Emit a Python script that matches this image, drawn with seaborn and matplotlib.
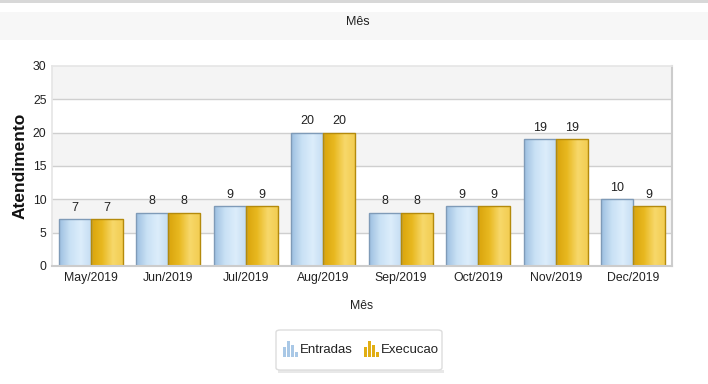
import numpy as np
import pandas as pd
import matplotlib
matplotlib.use("Agg")
import matplotlib.pyplot as plt
from matplotlib.patches import Rectangle, FancyBboxPatch
from matplotlib.colors import LinearSegmentedColormap
import seaborn as sns

months = ["May/2019", "Jun/2019", "Jul/2019", "Aug/2019",
          "Sep/2019", "Oct/2019", "Nov/2019", "Dec/2019"]
entradas = [7, 8, 9, 20, 8, 9, 19, 10]
execucao = [7, 8, 9, 20, 8, 9, 19, 9]
series_names = ["Entradas", "Execucao"]

df = pd.DataFrame({
    "Mês": months * 2,
    "Atendimento": entradas + execucao,
    "Serie": [series_names[0]] * len(months) + [series_names[1]] * len(months),
})

sns.set_theme(style="white")
plt.rcParams["font.family"] = ["Liberation Sans", "DejaVu Sans"]

W, H = 708, 384
fig = plt.figure(figsize=(W / 100, H / 100), dpi=100)
fig.patch.set_facecolor("white")

# header strip with the chart title
fig.patches.append(Rectangle((0, 1 - 3 / H), 1, 3 / H, transform=fig.transFigure,
                             facecolor="#d8d8d8", edgecolor="none", zorder=0))
fig.patches.append(Rectangle((0, 1 - 40 / H), 1, 28 / H, transform=fig.transFigure,
                             facecolor="#f7f7f7", edgecolor="none", zorder=0))
fig.text(358 / W, 1 - 22 / H, "Mês", ha="center", va="center", fontsize=9, color="#222222")

ax = fig.add_axes([52 / W, 1 - 266 / H, 620 / W, 200 / H])

palette = {"Entradas": "#b5d3ee", "Execucao": "#e9be2c"}
sns.barplot(data=df, x="Mês", y="Atendimento", hue="Serie", palette=palette,
            width=0.83, gap=0.0, ax=ax, legend=False, saturation=1)

ax.set_ylim(0, 30)
ax.set_xlim(-0.5, len(months) - 0.5)
ax.set_yticks(range(0, 31, 5))
ax.set_facecolor("white")

# alternating horizontal bands
for i, lo in enumerate(range(0, 30, 5)):
    if i % 2 == 1:
        ax.axhspan(lo, lo + 5, color="#f4f4f4", zorder=0, lw=0)
for y in range(5, 30, 5):
    ax.axhline(y, color="#cfcfcf", lw=1.0, zorder=0.5)

grads = {
    "Entradas": LinearSegmentedColormap.from_list("b", ["#9dbfe0", "#c9e1f5", "#dcedfb", "#c4dcf2"]),
    "Execucao": LinearSegmentedColormap.from_list("y", ["#d9a40c", "#e8b820", "#f7d86a", "#f2cc50"]),
}
edges = {"Entradas": "#7f9bb8", "Execucao": "#b48a0c"}

grad_row = np.linspace(0, 1, 64).reshape(1, -1)
n = len(months)
for k, container in enumerate(ax.containers):
    name = series_names[k]
    vals = entradas if k == 0 else execucao
    for patch, v in zip(container.patches, vals):
        patch.set_edgecolor(edges[name])
        patch.set_linewidth(1.0)
        patch.set_zorder(2)
        x0, w = patch.get_x(), patch.get_width()
        h = patch.get_height()
        im = ax.imshow(grad_row, cmap=grads[name], aspect="auto",
                       extent=(x0, x0 + w, 0, h), zorder=1.5)
        im.set_clip_path(patch)
        patch.set_facecolor("none")
        ax.text(x0 + w / 2, h + 0.8, f"{v}", ha="center", va="bottom",
                fontsize=9, color="#222222")

ax.set_xlim(-0.5, n - 0.5)
ax.set_ylim(0, 30)

for s in ["top", "left"]:
    ax.spines[s].set_color("#e6e6e6")
for s in ["right", "bottom"]:
    ax.spines[s].set_color("#cccccc")
    ax.spines[s].set_linewidth(1.5)

ax.tick_params(axis="both", length=0, labelsize=8.8, colors="#222222", pad=4)
ax.set_xlabel("Mês", fontsize=8.8, color="#222222", labelpad=12)
ax.set_ylabel("Atendimento", fontsize=12.5, fontweight="bold", color="#111111")
ax.yaxis.set_label_coords(-24 / 620, 0.5)

# legend box with small bar glyphs
lx0, ly0, lw, lh = 276, 330, 166, 40
box = FancyBboxPatch((lx0 / W, 1 - (ly0 + lh) / H), lw / W, lh / H,
                     boxstyle="round,pad=0,rounding_size=0.006", transform=fig.transFigure,
                     facecolor="white", edgecolor="#dddddd", lw=1.0, zorder=3)
fig.patches.append(box)
shadow = Rectangle(((lx0 + 2) / W, 1 - (ly0 + lh + 3) / H), lw / W, 3 / H,
                   transform=fig.transFigure, facecolor="#e8e8e8", edgecolor="none", zorder=2)
fig.patches.append(shadow)

legend_items = [("Entradas", 283, 300, "#a9c8e6"), ("Execucao", 364, 381, "#e1ae14")]
for label, gx, tx, col in legend_items:
    for dx, hh in [(0, 10), (4, 16), (8, 12), (12, 5)]:
        fig.patches.append(Rectangle(((gx + dx) / W, 1 - 357 / H), 3 / W, hh / H,
                                     transform=fig.transFigure, facecolor=col,
                                     edgecolor="none", zorder=4))
    fig.text(tx / W, 1 - 350 / H, label, ha="left", va="center", fontsize=9.5,
             color="#222222", zorder=5)

fig.savefig("out.png", dpi=100)
